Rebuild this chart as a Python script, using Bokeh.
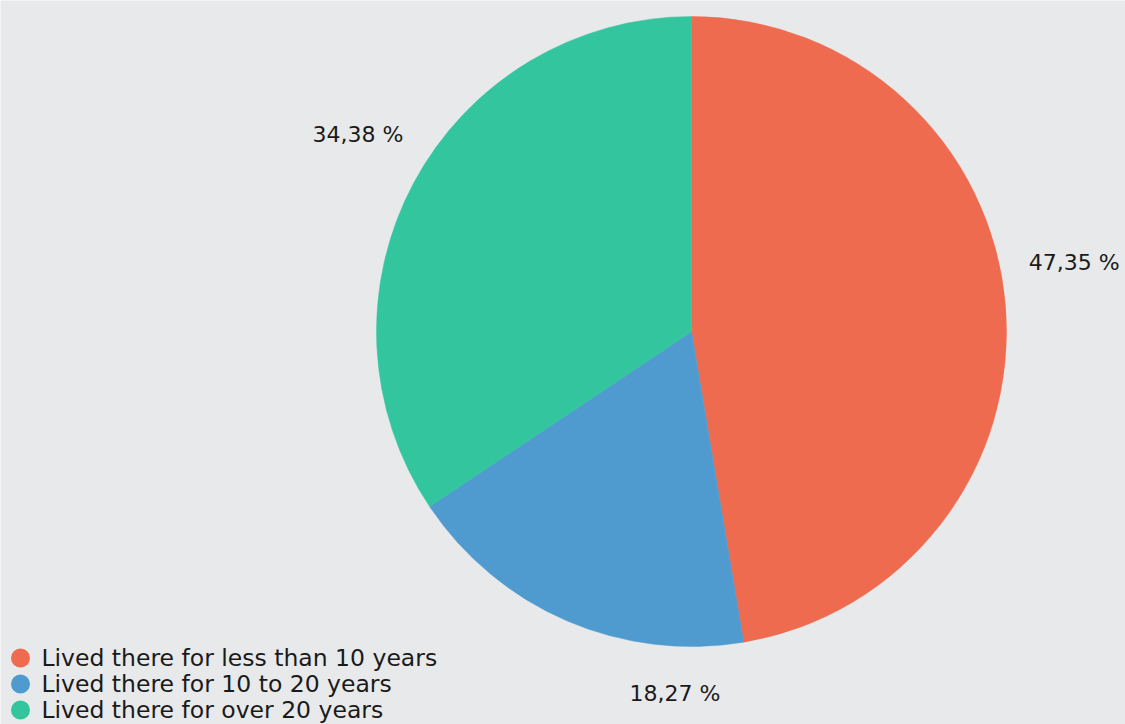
import math
from bokeh.plotting import figure
from bokeh.models import Range1d, ColumnDataSource
from bokeh.core.properties import value
from bokeh.embed import file_html
from bokeh.resources import INLINE

categories = ["Lived there for less than 10 years",
              "Lived there for 10 to 20 years",
              "Lived there for over 20 years"]
shares = [47.35, 18.27, 34.38]
colors = ["#ef6b50", "#4f9bcf", "#33c69e"]

# layout (image pixel coordinates)
W, H = 1125, 724
CX, CY, R = 691, 331, 315
LABEL_R = 385
label_nudge = [(-1, -37), (136, 9), (6, -16)]
FONT = "DejaVu Sans"

p = figure(width=W, height=H, output_backend="svg", toolbar_location=None,
           x_range=Range1d(0, W), y_range=Range1d(H, 0),
           min_border=0, outline_line_color=None)
p.axis.visible = False
p.grid.visible = False
p.background_fill_color = "#e8e9ea"
p.border_fill_color = "#e8e9ea"

total = sum(shares)
starts, ends, lx, ly, ltxt = [], [], [], [], []
cur = math.pi / 2
for i, s in enumerate(shares):
    sweep = s / total * 2 * math.pi
    a0 = cur
    a1 = cur - sweep   # clockwise on screen
    starts.append(a1)
    ends.append(a0)
    mid = (a0 + a1) / 2
    lx.append(CX + LABEL_R * math.cos(mid) + label_nudge[i][0])
    ly.append(CY - LABEL_R * math.sin(mid) + label_nudge[i][1])
    ltxt.append(f"{s:.2f}".replace(".", ",") + " %")
    cur = a1

src = ColumnDataSource(dict(start=starts, end=ends, color=colors))
p.wedge(x=CX, y=CY, radius=R, start_angle="start", end_angle="end",
        direction="anticlock", fill_color="color", line_color="color",
        line_width=0.5, source=src)

p.text(x=lx, y=ly, text=ltxt, text_align="center", text_baseline="middle",
       text_font=value(FONT), text_font_size="22px", text_color="#1a1a1a")

# legend
leg_y = [657.5 + 26 * i for i in range(len(categories))]
p.scatter(x=[20] * len(categories), y=leg_y, size=19, marker="circle",
          fill_color=colors, line_color=None)
p.text(x=[41] * len(categories), y=leg_y, text=categories, text_align="left",
       text_baseline="middle", text_font=value(FONT), text_font_size="23.5px",
       text_color="#1a1a1a")

open("out.html", "w").write(file_html(p, INLINE))
